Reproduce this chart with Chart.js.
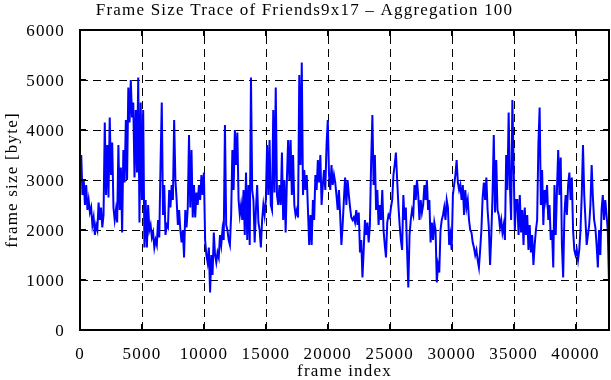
<!DOCTYPE html>
<html>
<head>
<meta charset="utf-8">
<script src="https://cdn.jsdelivr.net/npm/chart.js@4/dist/chart.umd.min.js"></script>
<style>
  body { margin: 0; background: #fff; }
  #wrap { width: 611px; height: 380px; }
</style>
</head>
<body>
<div id="wrap"><canvas id="trace" width="611" height="380"></canvas></div>
<script>
// frame sizes (bytes), one value per aggregated block of 100 frames
const aggregation = 100;
const frameSize = [
  3200, 3500, 2700, 3000, 2500, 2900, 2400, 2600, 2350, 2450,
  2100, 2250, 1900, 2100, 2000, 2550, 2200, 2450, 2050, 2300,
  4150, 2700, 3700, 2650, 4250, 3100, 3750, 2450, 2200, 2400,
  2150, 3700, 2400, 3250, 1950, 3600, 2950, 4200, 3000, 4850,
  4150, 5000, 4250, 4550, 3050, 4400, 3150, 5050, 2150, 4550,
  2600, 4400, 1650, 2600, 1650, 2500, 2000, 2100, 1850, 1950,
  1650, 1800, 1700, 2200, 1850, 3300, 4550, 2300, 2900, 1900,
  2100, 2050, 2800, 2450, 2900, 2600, 4200, 3000, 2600, 2100,
  2400, 2000, 1750, 2000, 1450, 2400, 2050, 2450, 3900, 2450,
  3600, 2250, 2900, 2250, 2750, 2500, 2900, 2600, 3100, 2700,
  3150, 1800, 1500, 1350, 1650, 750, 1500, 1100, 1950, 1500,
  1350, 1550, 1450, 1900, 1700, 2000, 1800, 4100, 2100, 2000,
  1800, 1700, 2300, 3600, 2800, 4000, 3300, 3950, 2600, 2300,
  2500, 2200, 2800, 1900, 3150, 1800, 2900, 1700, 5050, 2800,
  2600, 1750, 2400, 2900, 2150, 2000, 1650, 2200, 2500, 2300,
  2600, 3700, 2700, 3800, 2500, 2400, 4400, 2750, 4850, 2700,
  2500, 2900, 2500, 3550, 2200, 3000, 1950, 3000, 3800, 3000,
  3800, 2700, 3500, 2500, 2300, 2400, 2250, 5100, 3300, 5350,
  2700, 3200, 2800, 3100, 2400, 1700, 2300, 1700, 2600, 2200,
  3100, 2800, 3400, 2950, 3500, 2500, 2900, 3200, 2800, 3700,
  4200, 3100, 2800, 3300, 2900, 3100, 2950, 2700, 2400, 2800,
  2300, 1700, 2100, 2600, 3050, 2500, 3000, 2700, 2450, 2250,
  2200, 2250, 2150, 2400, 2100, 2350, 1550, 1800, 1050, 1600,
  2200, 1900, 2150, 1750, 2100, 3350, 4300, 2900, 3500, 2400,
  2800, 2100, 2500, 2200, 2800, 2000, 1700, 1450, 2150, 2300,
  2250, 2450, 2600, 3100, 3300, 3550, 3000, 2500, 2100, 1800,
  1600, 2700, 2200, 2450, 1600, 850, 1900, 2200, 2400, 2300,
  2900, 2600, 3000, 2700, 2200, 2600, 2350, 2500, 2900, 2600,
  3000, 2400, 2600, 1750, 2150, 1800, 2150, 2000, 950, 1300,
  1150, 2000, 2200, 2300, 2450, 2200, 2600, 2450, 1700, 1900,
  1600, 2700, 2900, 3100, 3400, 2950, 2800, 2900, 2600, 2900,
  2300, 2800, 2450, 2600, 2200, 2000, 1950, 1750, 1650, 1500,
  1600, 1400, 1250, 1600, 2000, 2650, 2950, 2600, 3050, 2400,
  2050, 1300, 1900, 2700, 3900, 2350, 3400, 2400, 2300, 2050,
  2200, 1950, 2100, 1800, 3500, 2800, 4350, 2900, 2200, 4600,
  3300, 2000, 2600, 2600, 1900, 2700, 1950, 2400, 1700, 2450,
  1900, 2300, 1600, 2100, 1550, 1900, 1300, 1700, 2000, 2200,
  3700, 4450, 2500, 3200, 2100, 2800, 2600, 2900, 2200, 2500,
  1800, 2000, 1250, 2900, 1900, 2800, 3600, 2700, 3450, 1700,
  1050, 2300, 2700, 2300, 2900, 3150, 2600, 3050, 2000, 1600,
  1500, 1600, 1400, 1600, 2000, 2700, 3700, 2700, 2200, 1700,
  1900, 2100, 2500, 3300, 2650, 2200, 2050, 1700, 1250, 2000,
  1500, 2400, 2700, 2200, 2600, 2300, 2000, 950
];
const xTicks = [0, 5000, 10000, 15000, 20000, 25000, 30000, 35000, 40000];
const yTicks = [0, 1000, 2000, 3000, 4000, 5000, 6000];

const serif = "'Liberation Serif', 'DejaVu Serif', serif";

// the original text is a wide, spaced-out serif; letterSpacing gets close
const wideText = {
  id: "wideText",
  beforeLayout(chart) { chart.ctx.letterSpacing = "1.2px"; },
  beforeDraw(chart) { chart.ctx.letterSpacing = "1.2px"; },
};

// dashed grid under the trace
const dashGrid = {
  id: "dashGrid",
  beforeDatasetsDraw(chart) {
    const { ctx, chartArea: a, scales } = chart;
    ctx.save();
    ctx.strokeStyle = "#000";
    ctx.lineWidth = 1;
    ctx.setLineDash([8, 5]);
    ctx.beginPath();
    xTicks.forEach(v => {
      const x = Math.round(scales.x.getPixelForValue(v)) + 0.5;
      if (x <= a.left + 1 || x >= a.right - 1) return;
      ctx.moveTo(x, a.bottom); ctx.lineTo(x, a.top);
    });
    yTicks.forEach(v => {
      const y = Math.round(scales.y.getPixelForValue(v)) + 0.5;
      if (y <= a.top + 1 || y >= a.bottom - 1) return;
      ctx.moveTo(a.left, y); ctx.lineTo(a.right, y);
    });
    ctx.stroke();
    ctx.restore();
  },
};

// gnuplot style frame with inward tick marks on all four sides
const frameBox = {
  id: "frameBox",
  afterDatasetsDraw(chart) {
    const { ctx, chartArea: a, scales } = chart;
    ctx.save();
    ctx.strokeStyle = "#000";
    ctx.lineWidth = 2;
    ctx.beginPath();
    xTicks.forEach(v => {
      const x = Math.round(scales.x.getPixelForValue(v));
      ctx.moveTo(x, a.bottom); ctx.lineTo(x, a.bottom - 6);
      ctx.moveTo(x, a.top); ctx.lineTo(x, a.top + 6);
    });
    yTicks.forEach(v => {
      const y = Math.round(scales.y.getPixelForValue(v));
      ctx.moveTo(a.left, y); ctx.lineTo(a.left + 6, y);
      ctx.moveTo(a.right, y); ctx.lineTo(a.right - 6, y);
    });
    ctx.stroke();
    ctx.strokeRect(a.left, a.top, a.right - a.left, a.bottom - a.top);
    ctx.restore();
  },
};

new Chart(document.getElementById("trace"), {
  type: "line",
  data: {
    datasets: [{
      data: frameSize.map((v, i) => ({ x: i * aggregation, y: v })),
      borderColor: "#0000ff",
      borderWidth: 2,
      pointRadius: 0,
      tension: 0,
      fill: false,
    }],
  },
  options: {
    responsive: false,
    animation: false,
    events: [],
    layout: { padding: { top: 0, right: 2, left: 0, bottom: 0 } },
    plugins: {
      legend: { display: false },
      tooltip: { enabled: false },
      title: {
        display: true,
        text: "Frame Size Trace of Friends9x17 \u2013 Aggregation 100",
        color: "#000",
        font: { family: serif, size: 17, weight: "normal", lineHeight: 1.2 },
        padding: { top: 0, bottom: 9.6 },
      },
    },
    scales: {
      x: {
        type: "linear",
        min: 0,
        max: 42700,
        afterFit: s => { s.height = 50; },
        afterBuildTicks: s => { s.ticks = xTicks.map(v => ({ value: v })); },
        ticks: {
          color: "#000", font: { family: serif, size: 17 }, padding: 6,
          maxRotation: 0, autoSkip: false, callback: v => String(v),
        },
        grid: { display: false },
        border: { display: false },
        title: {
          display: true,
          text: "frame index",
          color: "#000",
          font: { family: serif, size: 17, lineHeight: 1 },
          padding: { top: 0, bottom: 0 },
        },
      },
      y: {
        min: 0,
        max: 6000,
        afterFit: s => { s.width = 80; },
        afterBuildTicks: s => { s.ticks = yTicks.map(v => ({ value: v })); },
        ticks: {
          color: "#000", font: { family: serif, size: 17 }, padding: 7,
          labelOffset: 2, callback: v => String(v),
        },
        grid: { display: false },
        border: { display: false },
        title: {
          display: true,
          text: "frame size [byte]",
          color: "#000",
          font: { family: serif, size: 17, lineHeight: 1 },
          padding: { top: 4, bottom: 0 },
        },
      },
    },
  },
  plugins: [wideText, dashGrid, frameBox],
});
</script>
</body>
</html>
